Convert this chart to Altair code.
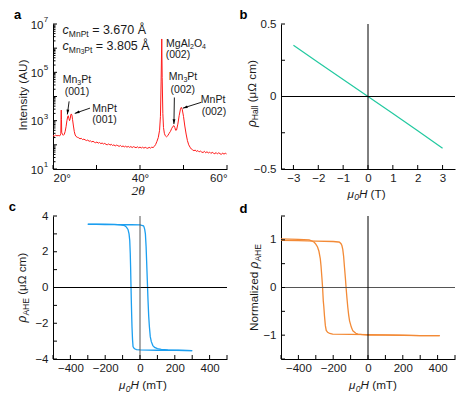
import altair as alt
import pandas as pd

FONT = "Liberation Sans"
SERIF = "Liberation Serif"
TXT = "#1a1a1a"
RED = "#ff1a1a"
GREEN = "#22c9a0"
BLUE = "#1c9ff0"
ORANGE = "#f38a36"

# ---------------- data ----------------
xrd_deg = [20.0, 20.3, 20.6, 20.9, 21.2, 21.5, 21.7, 21.8, 21.85, 21.9, 21.95, 22.0, 22.2, 22.4, 22.6, 22.8,
           23.0, 23.2, 23.4, 23.5, 23.65, 23.8, 23.95, 24.1, 24.2, 24.35, 24.5, 24.7, 24.9, 25.1, 25.3, 25.6,
           25.9, 26.2, 26.5, 26.8, 27.1, 27.4, 27.7, 28.0, 28.3, 28.6, 28.9, 29.2, 29.5, 29.8, 30.1, 30.4,
           30.7, 31.0, 31.3, 31.6, 31.9, 32.2, 32.5, 32.8, 33.1, 33.4, 33.7, 34.0, 34.3, 34.6, 34.9, 35.2,
           35.5, 35.8, 36.1, 36.4, 36.7, 37.0, 37.3, 37.6, 37.9, 38.2, 38.5, 38.8, 39.1, 39.4, 39.7, 40.0,
           40.3, 40.6, 40.9, 41.2, 41.5, 41.8, 42.1, 42.4, 42.7, 43.0, 43.3, 43.6, 43.9, 44.2, 44.5, 44.7,
           44.85, 45.0, 45.1, 45.25, 45.4, 45.6, 45.8, 46.1, 46.4, 46.7, 47.0, 47.3, 47.6, 47.8, 48.0, 48.2,
           48.4, 48.7, 49.0, 49.3, 49.5, 49.7, 50.0, 50.3, 50.6, 50.9, 51.2, 51.5, 51.8, 52.1, 52.4, 52.7,
           53.0, 53.3, 53.6, 53.9, 54.2, 54.5, 54.8, 55.1, 55.4, 55.7, 56.0, 56.3, 56.6, 56.9, 57.2, 57.5,
           57.8, 58.1, 58.4, 58.7, 59.0, 59.3, 59.6, 59.9]
xrd_int = [245, 228, 252, 236, 244, 232, 258, 300, 1400, 2750, 1100, 330, 262, 250, 275, 360,
           560, 1000, 1500, 1600, 1250, 1000, 1200, 1750, 1900, 1700, 1100, 600, 350, 255, 222, 205,
           196, 178, 186, 165, 172, 160, 150, 158, 140, 146, 132, 141, 128, 122, 131, 117,
           125, 112, 119, 108, 115, 104, 101, 110, 97, 105, 94, 100, 90, 97, 93, 86,
           94, 84, 90, 82, 88, 80, 86, 79, 85, 77, 84, 80, 76, 83, 75, 81,
           74, 80, 73, 79, 74, 72, 79, 73, 80, 77, 86, 104, 140, 200, 400, 1500,
           40000, 2400000, 60000, 2000, 520, 300, 240, 215, 240, 300, 360, 480, 590, 620, 520, 400,
           410, 720, 1600, 3000, 3550, 3000, 1500, 600, 280, 150, 100, 80, 67, 62, 57, 61,
           53, 58, 51, 55, 50, 48, 54, 47, 52, 46, 50, 44, 49, 45, 43, 48,
           42, 47, 43, 40, 46, 41, 45, 42]

hall_field = [-3, -2, -1, 0, 1, 2, 3]
hall_rho = [0.353, 0.235, 0.118, 0.0, -0.118, -0.237, -0.357]

c_down_H = [-300, -250, -200, -150, -100, -50, 0, 10, 20, 23, 27, 31, 35, 38, 42, 46, 50, 54, 59, 65,
            74, 84, 100, 122, 160, 220, 300]
c_down_rho = [3.53, 3.53, 3.52, 3.52, 3.51, 3.51, 3.50, 3.48, 3.45, 3.39, 3.25, 3.0, 2.3, 1.5, 0.4, -0.7,
              -1.6, -2.2, -2.75, -3.03, -3.25, -3.35, -3.42, -3.46, -3.49, -3.51, -3.53]
c_up_H = [300, 200, 100, 50, 0, -20, -31, -36, -40, -43, -46, -48, -50, -52, -54, -56, -59, -63, -69,
          -78, -88, -110, -145, -200, -300]
c_up_rho = [-3.53, -3.52, -3.51, -3.50, -3.49, -3.47, -3.43, -3.38, -3.3, -2.9, -2.2, -1.5, -0.7, 0.2,
            1.15, 1.9, 2.64, 3.0, 3.25, 3.38, 3.46, 3.5, 3.53, 3.54, 3.55]

d_down_H = [-500, -400, -300, -200, -170, -164, -155, -150, -145, -140, -135, -130, -126, -121, -116,
            -111, -106, -96, -87, -70, -58, -30, 0, 100, 200, 300, 412]
d_down_rho = [0.99, 0.985, 0.975, 0.965, 0.955, 0.95, 0.92, 0.88, 0.8, 0.65, 0.42, 0.2, 0.0, -0.22,
              -0.42, -0.58, -0.7, -0.83, -0.91, -0.96, -0.98, -0.99, -1.0, -1.0, -1.005, -1.01, -1.01]
d_up_H = [412, 300, 200, 100, 0, -100, -203, -220, -232, -240, -245, -250, -254, -257, -261, -265,
          -270, -274, -282, -290, -300, -309, -325, -338, -400, -500]
d_up_rho = [-1.01, -1.01, -1.0, -0.995, -0.99, -0.985, -0.98, -0.965, -0.94, -0.9, -0.8, -0.6, -0.4,
            -0.28, 0.0, 0.21, 0.45, 0.6, 0.76, 0.85, 0.91, 0.95, 0.98, 1.0, 1.01, 1.02]

# tick positions / labels
a_xticks = [20, 30, 40, 50, 60]
a_xlabels = [20, 40, 60]
a_ymajor = [10, 100, 1e3, 1e4, 1e5, 1e6, 1e7]
a_yminor = [k * 10 ** e for e in range(1, 7) for k in range(2, 10)]
a_ylabels = [10, 1e3, 1e5, 1e7]
a_yexp = ["1", "3", "5", "7"]
b_xticks = [-3, -2, -1, 0, 1, 2, 3]
b_yticks = [-0.5, -0.25, 0, 0.25, 0.5]
b_ylabels = [-0.5, 0, 0.5]
c_xticks = [-500, -400, -300, -200, -100, 0, 100, 200, 300, 400, 500]
c_xlabels = [-400, -200, 0, 200, 400]
c_yticks = [-4, -3, -2, -1, 0, 1, 2, 3, 4]
c_ylabels = [-4, -2, 0, 2, 4]
d_yticks = [-1.5, -1, -0.5, 0, 0.5, 1, 1.5]
d_ylabels = [-1, 0, 1]

# ---------------- helpers ----------------
WID = {' ': .278, '(': .333, ')': .333, 'μ': .576, 'Ω': .768, 'ρ': .578, 'H': .722, 'T': .611,
       'm': .833, 'c': .5, 'A': .667, 'E': .667, 'N': .722, 'o': .556, 'r': .333, 'a': .556,
       'l': .222, 'i': .222, 'z': .5, 'e': .556, 'd': .556, 'n': .556, 'M': .833, 'P': .667,
       't': .278, 'g': .556, 'O': .778, '=': .584, '.': .278, 'Å': .667, 's': .5, 'I': .278,
       'U': .722, 'y': .5}


def tw(s, size):
    return sum(WID.get(ch, 0.556) for ch in s) * size


def one():
    return alt.Data(values=[{"k": 0}])


def P(t, s=11.7, style="normal", dy=0, fam=FONT):
    return (t, s, style, dy, fam)


def rich(pieces, x, y, align="center", angle=0):
    widths = [tw(p[0], p[1]) for p in pieces]
    total = sum(widths)
    cur = -total / 2 if align == "center" else (0 if align == "left" else -total)
    out = []
    for (t, s, style, dy, fam), w in zip(pieces, widths):
        stripped = t.lstrip(" ")
        lead = tw(t[:len(t) - len(stripped)], s)
        kw = dict(text=stripped, fontSize=s, fontStyle=style, font=fam, align="left",
                  baseline="middle", dx=cur + lead, dy=dy, color=TXT)
        if angle:
            kw["angle"] = angle
        out.append(alt.Chart(one()).mark_text(**kw).encode(x=x, y=y))
        cur += w
    return out


def axis(values, fmt=None, expr=None, pad=3, labels=True, flush=None):
    kw = dict(values=values, ticks=False, grid=False, title=None, domainColor="black",
              domainWidth=1, labelFont=FONT, labelFontSize=11.5, labelColor=TXT,
              labelPadding=pad, labels=labels)
    if fmt:
        kw["format"] = fmt
    if expr:
        kw["labelExpr"] = expr
    if flush is not None:
        kw["labelFlush"] = flush
    return alt.Axis(**kw)


class Frame:
    def __init__(self, xs, ys, ax, ay):
        self.xs, self.ys, self.ax, self.ay = xs, ys, ax, ay

    def X(self, f):
        return alt.X(f, scale=self.xs, axis=self.ax)

    def Y(self, f):
        return alt.Y(f, scale=self.ys, axis=self.ay)

    def XD(self, v):
        return alt.XDatum(v, scale=self.xs, axis=self.ax)

    def YD(self, v):
        return alt.YDatum(v, scale=self.ys, axis=self.ay)

    def xticks(self, vals, H, L=4):
        return alt.Chart(pd.DataFrame({"v": vals})).mark_rule(color="black", strokeWidth=1).encode(
            x=self.X("v:Q"), y=alt.value(H), y2=alt.value(H - L))

    def yticks(self, vals, L=4):
        return alt.Chart(pd.DataFrame({"v": vals})).mark_rule(color="black", strokeWidth=1).encode(
            y=self.Y("v:Q"), x=alt.value(0), x2=alt.value(L))

    def zero_h(self, color="black"):
        return alt.Chart(pd.DataFrame({"v": [0]})).mark_rule(color=color, strokeWidth=1).encode(
            y=self.Y("v:Q"))

    def zero_v(self, color="black"):
        return alt.Chart(pd.DataFrame({"v": [0]})).mark_rule(color=color, strokeWidth=1).encode(
            x=self.X("v:Q"))


def letter(t, x, y):
    return alt.Chart(one()).mark_text(text=t, fontSize=13, fontWeight="bold", font=FONT,
                                      align="left", baseline="top", color="black").encode(
        x=alt.value(x), y=alt.value(y))


def loop_df(h1, r1, h2, r2):
    rows = []
    for i, (h, r) in enumerate(zip(h1, r1)):
        rows.append({"H": h, "r": r, "b": "down", "i": i})
    for i, (h, r) in enumerate(zip(h2, r2)):
        rows.append({"H": h, "r": r, "b": "up", "i": i})
    return pd.DataFrame(rows)


def mu0H(unit):
    return [P("μ", 11.7, "italic"), P("0", 8.5, "italic", 3.5), P("H", 11.7, "italic"), P(" (" + unit + ")")]


W = 174
H1 = 145
H2 = 143

# ---------------- panel a ----------------
A = Frame(alt.Scale(domain=[20, 60], nice=False, zero=False),
          alt.Scale(type="log", domain=[10, 1e7], nice=False),
          axis(a_xlabels, expr="datum.value + '°'", flush=True),
          axis(a_ylabels, labels=False))

line_a = alt.Chart(pd.DataFrame({"deg": xrd_deg, "I": xrd_int})).mark_line(
    color=RED, strokeWidth=1).encode(x=A.X("deg:Q"), y=A.Y("I:Q"))

ylab_a = alt.Chart(pd.DataFrame({"v": a_ylabels, "e": a_yexp}))
ylab10 = ylab_a.mark_text(text="10", fontSize=11.5, font=FONT, align="right", baseline="middle",
                          dx=-9.5, dy=1.5, color=TXT).encode(y=A.Y("v:Q"), x=alt.value(0))
ylabexp = ylab_a.mark_text(fontSize=8, font=FONT, align="left", baseline="middle",
                           dx=-9.3, dy=-4, color=TXT).encode(y=A.Y("v:Q"), x=alt.value(0), text="e:N")

arrows = pd.DataFrame({
    "x1": [23.7, 28.5, 47.9, 54.1], "y1": [6300, 3300, 9100, 5750],
    "x2": [23.3, 25.0, 47.8, 49.85], "y2": [1820, 2000, 720, 3300],
    "ang": [186.7, 250.6, 181.3, 253.0]})
arrow_lines = alt.Chart(arrows).mark_rule(color="black", strokeWidth=0.9).encode(
    x=A.X("x1:Q"), y=A.Y("y1:Q"), x2="x2:Q", y2="y2:Q")
arrow_heads = alt.Chart(arrows).mark_point(
    shape="M0,0L-0.7,2.4L0.7,2.4Z", filled=True, color="black", size=16, opacity=1).encode(
    x=A.X("x2:Q"), y=A.Y("y2:Q"), angle=alt.Angle("ang:Q", scale=None))

ann = []
ann += rich([P("c", 12.5, "italic"), P("MnPt", 8.5, "normal", 3.8), P(" = 3.670 Å", 12.5)],
            A.XD(22.2), A.YD(5.8e6), align="left")
ann += rich([P("c", 12.5, "italic"), P("Mn", 8.5, "normal", 3.8), P("3", 6.5, "normal", 6),
             P("Pt", 8.5, "normal", 3.8), P(" = 3.805 Å", 12.5)],
            A.XD(22.2), A.YD(1.25e6), align="left")
ann += rich([P("MgAl", 10.5), P("2", 7, "normal", 3), P("O", 10.5), P("4", 7, "normal", 3)],
            A.XD(46.0), A.YD(1.48e6), align="left")
ann += rich([P("(002)", 10.5)], A.XD(45.9), A.YD(5.4e5), align="left")
ann += rich([P("Mn", 10.5), P("3", 7, "normal", 3), P("Pt", 10.5)], A.XD(25.5), A.YD(4.8e4))
ann += rich([P("(001)", 10.5)], A.XD(25.5), A.YD(1.6e4))
ann += rich([P("MnPt", 10.5)], A.XD(31.85), A.YD(3000))
ann += rich([P("(001)", 10.5)], A.XD(31.85), A.YD(1070))
ann += rich([P("Mn", 10.5), P("3", 7, "normal", 3), P("Pt", 10.5)], A.XD(49.9), A.YD(6.6e4))
ann += rich([P("(002)", 10.5)], A.XD(49.85), A.YD(1.85e4))
ann += rich([P("MnPt", 10.5)], A.XD(56.8), A.YD(7400))
ann += rich([P("(002)", 10.5)], A.XD(57.0), A.YD(2200))

titles_a = []
titles_a += rich([P("Intensity (AU)", 11.7)], alt.value(-30.3), alt.value(H1 / 2 - 1.5), angle=270)
titles_a += rich([P("2θ", 13.5, "italic", 0, SERIF)], alt.value(86), alt.value(H1 + 22))

panel_a = alt.layer(
    line_a, A.xticks(a_xticks, H1), A.yticks(a_ymajor, 4), A.yticks(a_yminor, 2.5),
    ylab10, ylabexp, arrow_lines, arrow_heads, *ann, *titles_a, letter("a", -39, -15.5)
).properties(width=W, height=H1)

# ---------------- panel b ----------------
B = Frame(alt.Scale(domain=[-3.5, 3.5], nice=False, zero=False),
          alt.Scale(domain=[-0.5, 0.5], nice=False, zero=False),
          axis(b_xticks, fmt="d"),
          axis(b_ylabels, pad=5, expr="datum.value == 0 ? '0' : format(datum.value, '.1f')"))
line_b = alt.Chart(pd.DataFrame({"B": hall_field, "r": hall_rho})).mark_line(
    color=GREEN, strokeWidth=1.2).encode(x=B.X("B:Q"), y=B.Y("r:Q"))
titles_b = []
titles_b += rich([P("ρ", 12, "italic"), P("Hall", 8.5, "normal", 3.5), P(" (μΩ cm)")],
                 alt.value(-29.3), alt.value(H1 / 2 - 3), angle=270)
titles_b += rich(mu0H("T"), alt.value(85.5), alt.value(H1 + 24.5))
panel_b = alt.layer(
    line_b, B.zero_h(), B.zero_v(), B.xticks(b_xticks, H1), B.yticks(b_yticks),
    *titles_b, letter("b", -41.6, -15.5)
).properties(width=W, height=H1)

# ---------------- panel c ----------------
C = Frame(alt.Scale(domain=[-500, 500], nice=False, zero=False),
          alt.Scale(domain=[-4, 4], nice=False, zero=False),
          axis(c_xlabels, fmt="d"),
          axis(c_ylabels, fmt="d", pad=5))
line_c = alt.Chart(loop_df(c_down_H, c_down_rho, c_up_H, c_up_rho)).mark_line(
    color=BLUE, strokeWidth=1.3).encode(
    x=C.X("H:Q"), y=C.Y("r:Q"), detail="b:N", order="i:Q")
titles_c = []
titles_c += rich([P("ρ", 12, "italic"), P("AHE", 8.5, "normal", 3.5), P(" (μΩ cm)")],
                 alt.value(-30.6), alt.value(H2 / 2), angle=270)
titles_c += rich(mu0H("mT"), alt.value(90), alt.value(H2 + 26))
panel_c = alt.layer(
    line_c, C.zero_h(), C.zero_v("#555555"), C.xticks(c_xticks, H2), C.yticks(c_yticks),
    *titles_c, letter("c", -44.3, -15)
).properties(width=W, height=H2)

# ---------------- panel d ----------------
D = Frame(alt.Scale(domain=[-500, 500], nice=False, zero=False),
          alt.Scale(domain=[-1.5, 1.5], nice=False, zero=False),
          axis(c_xlabels, fmt="d"),
          axis(d_ylabels, fmt="d", pad=5))
line_d = alt.Chart(loop_df(d_down_H, d_down_rho, d_up_H, d_up_rho)).mark_line(
    color=ORANGE, strokeWidth=1.3).encode(
    x=D.X("H:Q"), y=D.Y("r:Q"), detail="b:N", order="i:Q")
titles_d = []
titles_d += rich([P("Normalized "), P("ρ", 12, "italic"), P("AHE", 8.5, "normal", 3.5)],
                 alt.value(-27), alt.value(H2 / 2), angle=270)
titles_d += rich(mu0H("mT"), alt.value(92), alt.value(H2 + 26))
panel_d = alt.layer(
    line_d, D.zero_h("#555555"), D.zero_v(), D.xticks(c_xticks, H2), D.yticks(d_yticks),
    *titles_d, letter("d", -41.6, -12.6)
).properties(width=W, height=H2)

chart = alt.concat(
    panel_a, panel_b, panel_c, panel_d, columns=2,
    spacing={"row": 47, "column": 54}, bounds="flush"
).configure_view(stroke="transparent").properties(
    background="white", padding={"left": 0, "top": 0, "right": 5, "bottom": 5})

chart.save("out.html", embed_options={"renderer": "svg", "actions": False})
